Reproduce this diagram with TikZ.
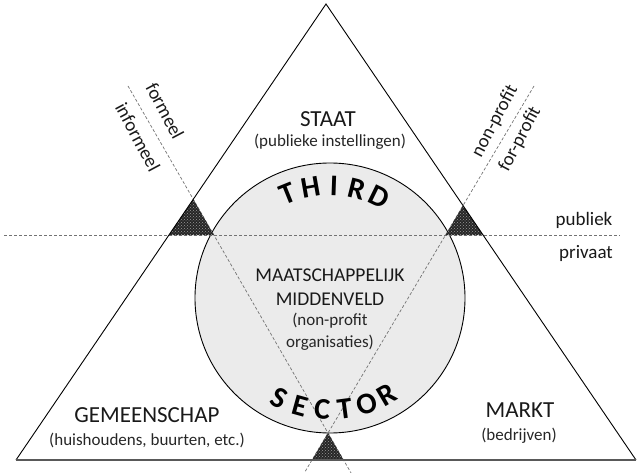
\documentclass[tikz,border=0pt]{standalone}
\usepackage{fontspec}
\setmainfont{Carlito}
\usetikzlibrary{calc}
\usetikzlibrary{patterns}

\tikzset{
	dashline/.style={black!55,line width=0.7pt,dash pattern=on 3pt off 2pt},
	junction/.style={fill=black!85,postaction={pattern=crosshatch dots,pattern color=black!40}},
	areatitle/.style={font=\fontsize{23}{26}\selectfont,text=black!90},
	midtitle/.style={font=\fontsize{19.5}{24}\selectfont,text=black!90,align=center},
	areasub/.style={font=\fontsize{17}{22}\selectfont,text=black!85,align=center},
	sidelabel/.style={font=\fontsize{19}{22}\selectfont,text=black!90},
	arcletter/.style={font=\fontsize{30}{30}\selectfont\bfseries,text=black,inner sep=0pt},
}

\begin{document}
\begin{tikzpicture}[x=1pt,y=-1pt]
	\useasboundingbox (0,0) rectangle (637,473);
	\coordinate (top) at (326,4);
	\coordinate (left) at (16,460);
	\coordinate (right) at (636,460);
	\coordinate (M) at (330,298);
	\coordinate (lt) at (128,86);
	\coordinate (rt) at (534,86);
	\coordinate (B) at (328,433);
	\coordinate (hl) at (4,235);
	\coordinate (hr) at (620,235);
	\coordinate (lb) at ($(lt)!1.115!(B)$);
	\coordinate (rb) at ($(rt)!1.115!(B)$);
	\coordinate (L) at (intersection of top--left and lt--B);
	\coordinate (L1) at (intersection of top--left and hl--hr);
	\coordinate (L2) at (intersection of lt--B and hl--hr);
	\coordinate (R) at (intersection of top--right and rt--B);
	\coordinate (R1) at (intersection of top--right and hl--hr);
	\coordinate (R2) at (intersection of rt--B and hl--hr);
	\coordinate (B1) at (intersection of lt--B and left--right);
	\coordinate (B2) at (intersection of rt--B and left--right);

	\draw[line width=0.9pt,fill=black!8] (M) circle (135pt);
	\draw[dashline] (hl)--(hr);
	\draw[dashline] (lt)--(lb);
	\draw[dashline] (rt)--(rb);
	\fill[junction] (L)--(L1)--(L2)--cycle;
	\fill[junction] (R)--(R1)--(R2)--cycle;
	\fill[junction] (B)--(B1)--(B2)--cycle;
	\draw[line width=0.9pt] (left)--(top)--(right);
	\draw[line width=1.8pt,black!65] (left)--(right);

	\foreach \ch [count=\i] in {T,H,I,R,D} {
		\pgfmathsetmacro\ang{-112+12*(\i-1)}
		\pgfmathsetmacro\rot{-1*(\ang)-90}
		\node[arcletter,rotate=\rot] (third\i) at ($(M)+(\ang:112)$) {\ch};
	}
	\foreach \ch [count=\i] in {S,E,C,T,O,R} {
		\pgfmathsetmacro\ang{117-11.5*(\i-1)}
		\pgfmathsetmacro\rot{90-\ang}
		\node[arcletter,rotate=\rot] (sector\i) at ($(M)+(\ang:112)$) {\ch};
	}

	\node[areatitle] (staat) at (328,119) {STAAT};
	\node[areasub] (staatsub) at (330,142) {(publieke instellingen)};
	\node[areatitle] (gem) at (147,415) {GEMEENSCHAP};
	\node[areasub] (gemsub) at (147,440) {(huishoudens, buurten, etc.)};
	\node[areatitle] (markt) at (520,410) {MARKT};
	\node[areasub] (marktsub) at (519,436) {(bedrijven)};
	\node[midtitle] (mid) at (330,287) {MAATSCHAPPELIJK\\MIDDENVELD};
	\node[areasub] (midsub) at (330,332) {(non-profit\\organisaties)};

	\node[sidelabel] (publiek) at (584,220) {publiek};
	\node[sidelabel] (privaat) at (586,253) {privaat};
	\node[sidelabel,rotate=-62] (formeel) at (165,111) {formeel};
	\node[sidelabel,rotate=-62] (informeel) at (138,137) {informeel};
	\node[sidelabel,rotate=62] (nonprofit) at (495,121) {non-profit};
	\node[sidelabel,rotate=62] (forprofit) at (520,139) {for-profit};
\end{tikzpicture}
\end{document}
